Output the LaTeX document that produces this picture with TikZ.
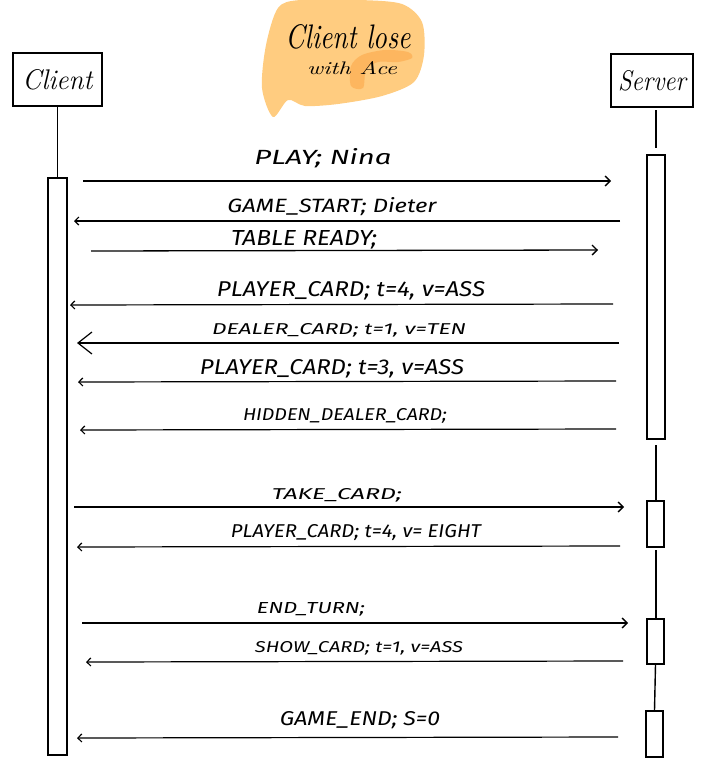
\documentclass[tikz,border=0pt]{standalone}
\usepackage{fontspec}
\setsansfont{Fira Sans}
\usepackage{graphicx}
\usetikzlibrary{arrows.meta}
\definecolor{blobA}{HTML}{FFCC80}
\definecolor{blobB}{HTML}{FDB45C}
\newcommand{\lbl}[3]{\resizebox{#1pt}{#2pt}{\sffamily\itshape #3}}
\begin{document}
\begin{tikzpicture}[x=1pt,y=-1pt,line width=1.3pt,
  actor/.style={draw,line width=1.4pt,inner sep=0pt,font=\itshape\Large},
  act/.style={draw,line width=1.4pt,inner sep=0pt,minimum width=18pt,fill=white},
  life/.style={line width=1.4pt},
  msgr/.style={line width=1.3pt,-{Straight Barb[length=5pt,width=10pt,line width=1.3pt]}},
  msgl/.style={line width=1.2pt,-{Straight Barb[length=4pt,width=8pt,line width=1.2pt]}},
  msgbig/.style={line width=1.2pt,-{Straight Barb[length=14pt,width=22pt,line width=1.2pt]}},
  lab/.style={inner sep=0pt}]
\useasboundingbox (0,0) rectangle (703,771);
% note blob
\fill[blobA] plot[smooth cycle] coordinates {(273,117) (262,88) (266,45) (278,8) (300,0) (360,0) (402,4) (422,22) (424,55) (414,82) (382,96) (338,104) (305,106) (288,100)};
\fill[blobB,opacity=0.9] plot[smooth cycle] coordinates {(351,86) (351,66) (362,55) (385,50) (408,52) (412,58) (398,62) (378,62) (366,70) (363,88)};
\node[lab] (note1) at (348,37) {\resizebox{125pt}{24pt}{\itshape Client lose}};
\node[lab] (note2) at (352,68) {\resizebox{90pt}{13pt}{\itshape with Ace}};
% actors
\node[actor,minimum width=89pt,minimum height=53pt] (client) at (57.5,79.5) {\resizebox{70pt}{20pt}{Client}};
\node[actor,minimum width=82pt,minimum height=53pt] (server) at (652,80.5) {\resizebox{68pt}{20pt}{Server}};
% activations
\node[act,minimum width=19pt,minimum height=577pt] (ca) at (57.5,466.5) {};
\node[act,minimum height=284pt] (sa1) at (656,297) {};
\node[act,minimum width=17pt,minimum height=46pt] (sa2) at (655.5,524) {};
\node[act,minimum width=17pt,minimum height=45pt] (sa3) at (655.5,641.5) {};
\node[act,minimum width=17pt,minimum height=46pt] (sa4) at (654.5,734) {};
% lifelines
\coordinate (st) at (656,110);
\coordinate (sb) at (656,148);
\draw[life] (client.south) -- (ca.north);
\draw[life] (st) -- (sb);
\coordinate (l1a) at (656,445); \coordinate (l1b) at (656,501);
\coordinate (l2a) at (656,550); \coordinate (l2b) at (656,619);
\draw[life] (l1a) -- (l1b);
\draw[life] (l2a) -- (l2b);
\draw[life] (sa3.south) -- (sa4.north);
% message end points
\coordinate (m1a) at (83,181);  \coordinate (m1b) at (611,181);
\coordinate (m2a) at (620,221); \coordinate (m2b) at (74,221);
\coordinate (m3a) at (91,251);  \coordinate (m3b) at (598,250);
\coordinate (m4a) at (613,304); \coordinate (m4b) at (70,305);
\coordinate (m5a) at (619,343); \coordinate (m5b) at (77,343);
\coordinate (m6a) at (616,381); \coordinate (m6b) at (78,382);
\coordinate (m7a) at (616,429); \coordinate (m7b) at (80,430);
\coordinate (m8a) at (74,507);  \coordinate (m8b) at (624,507);
\coordinate (m9a) at (620,546); \coordinate (m9b) at (77,547);
\coordinate (m10a) at (82,623); \coordinate (m10b) at (628,623);
\coordinate (m11a) at (623,661); \coordinate (m11b) at (86,662);
\coordinate (m12a) at (618,737); \coordinate (m12b) at (77,738);
\draw[msgr] (m1a) -- (m1b);
\draw[msgl] (m2a) -- (m2b);
\draw[msgr] (m3a) -- (m3b);
\draw[msgl] (m4a) -- (m4b);
\draw[msgbig] (m5a) -- (m5b);
\draw[msgl] (m6a) -- (m6b);
\draw[msgl] (m7a) -- (m7b);
\draw[msgr] (m8a) -- (m8b);
\draw[msgl] (m9a) -- (m9b);
\draw[msgr] (m10a) -- (m10b);
\draw[msgl] (m11a) -- (m11b);
\draw[msgl] (m12a) -- (m12b);
% labels
\node[lab] (t1) at (323,158) {\lbl{137}{16}{PLAY; Nina}};
\node[lab] (t2) at (332,207) {\lbl{209}{15}{GAME\_START; Dieter}};
\node[lab] (t3) at (304,240) {\lbl{146}{15}{TABLE READY;}};
\node[lab] (t4) at (351,291) {\lbl{268}{15}{PLAYER\_CARD; t=4, v=ASS}};
\node[lab] (t5) at (339,330) {\lbl{254}{11}{DEALER\_CARD; t=1, v=TEN}};
\node[lab] (t6) at (332,369) {\lbl{264}{15}{PLAYER\_CARD; t=3, v=ASS}};
\node[lab] (t7) at (345,416) {\lbl{204}{12}{HIDDEN\_DEALER\_CARD;}};
\node[lab] (t8) at (337,495) {\lbl{130}{11}{TAKE\_CARD;}};
\node[lab] (t9) at (356,533) {\lbl{250}{13}{PLAYER\_CARD; t=4, v= EIGHT}};
\node[lab] (t10) at (311,609) {\lbl{108}{11}{END\_TURN;}};
\node[lab] (t11) at (359,648) {\lbl{208}{11}{SHOW\_CARD; t=1, v=ASS}};
\node[lab] (t12) at (360,720) {\lbl{160}{14}{GAME\_END; S=0}};
\end{tikzpicture}
\end{document}
